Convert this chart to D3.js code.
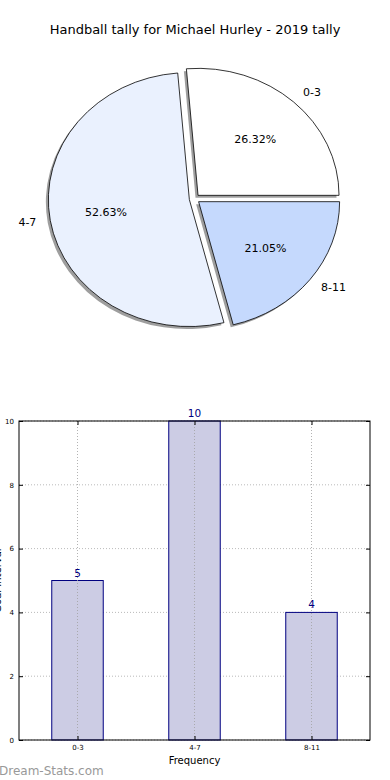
<!DOCTYPE html>
<html>
<head>
<meta charset="utf-8">
<script src="https://cdn.jsdelivr.net/npm/d3@7"></script>
<style>
  html, body { margin: 0; padding: 0; background: #fff; }
  svg { display: block; font-family: "DejaVu Sans", sans-serif; }
</style>
</head>
<body>
<svg id="chart" width="390" height="780"></svg>
<script>
const categories = ["0-3", "4-7", "8-11"];
const counts = [5, 10, 4];
const pieColors = ["#ffffff", "#eaf1fe", "#c5d9fd"];
const yTicks = [0, 2, 4, 6, 8, 10];
const titleText = "Handball tally for Michael Hurley - 2019 tally";
const xLabelText = "Frequency";
const yLabelText = "Goal Interval";
const watermark = "Dream-Stats.com";

const svg = d3.select("#chart");

svg.append("text").attr("x", 195).attr("y", 34).attr("text-anchor", "middle")
  .attr("font-size", 13).attr("fill", "#000").text(titleText);

// ---------- Pie ----------
const cx = 194.5, cy = 198.8, rx = 141, ry = 127;
const explode = 0.037;
const total = d3.sum(counts);
const pie = d3.pie().sort(null).startAngle(Math.PI / 2).endAngle(Math.PI / 2 - 2 * Math.PI);
const arcs = pie(counts);
const arcGen = d3.arc().innerRadius(0).outerRadius(rx);

const pieG = svg.append("g");
arcs.forEach((a, i) => {
  const m = (a.startAngle + a.endAngle) / 2;
  const ox = cx + explode * rx * Math.sin(m), oy = cy - explode * ry * Math.cos(m);
  pieG.append("path")
    .attr("d", arcGen(a))
    .attr("transform", `translate(${ox - 2.5},${oy + 2.5}) scale(1,${ry / rx})`)
    .attr("fill", "#000").attr("fill-opacity", 0.38);
  pieG.append("path")
    .attr("d", arcGen(a))
    .attr("transform", `translate(${ox},${oy}) scale(1,${ry / rx})`)
    .attr("fill", pieColors[i]).attr("stroke", "#000").attr("stroke-width", 0.8)
    .attr("vector-effect", "non-scaling-stroke");
});
arcs.forEach((a, i) => {
  const m = (a.startAngle + a.endAngle) / 2;
  const s = Math.sin(m), c = -Math.cos(m);
  const ox = cx + explode * rx * s, oy = cy + explode * ry * c;
  svg.append("text")
    .attr("x", ox + 1.1 * rx * s).attr("y", oy + 1.1 * ry * c)
    .attr("dy", "0.35em").attr("font-size", 11)
    .attr("text-anchor", s > 0 ? "start" : "end").text(categories[i]);
  svg.append("text")
    .attr("x", ox + 0.6 * rx * s).attr("y", oy + 0.6 * ry * c)
    .attr("dy", "0.35em").attr("font-size", 11).attr("text-anchor", "middle")
    .text((counts[i] / total * 100).toFixed(2) + "%");
});

// ---------- Bar ----------
const L = 19, R = 370, T = 421, B = 740;
const x = d3.scaleLinear().domain([-0.5, 2.5]).range([L, R]);
const y = d3.scaleLinear().domain([0, 10]).range([B, T]);
const barW = 0.44;
const g = svg.append("g");

g.selectAll(".gy").data(yTicks).enter().append("line")
  .attr("x1", L).attr("x2", R).attr("y1", d => y(d)).attr("y2", d => y(d))
  .attr("stroke", "#a8a8a8").attr("stroke-width", 0.8).attr("stroke-dasharray", "1,2");

g.selectAll(".bar").data(counts).enter().append("rect")
  .attr("x", (d, i) => x(i - barW / 2)).attr("width", x(barW) - x(0))
  .attr("y", d => y(d)).attr("height", d => B - y(d))
  .attr("fill", "#ccccE4").attr("stroke", "#000080").attr("stroke-width", 1);

g.selectAll(".gx").data(categories).enter().append("line")
  .attr("x1", (d, i) => x(i)).attr("x2", (d, i) => x(i)).attr("y1", T).attr("y2", B)
  .attr("stroke", "#a0a0a0").attr("stroke-width", 0.8).attr("stroke-dasharray", "1,2");

g.selectAll(".val").data(counts).enter().append("text")
  .attr("x", (d, i) => x(i)).attr("y", d => y(d) - 4)
  .attr("text-anchor", "middle").attr("font-size", 10.5).attr("fill", "#000080")
  .text(d => d);

const axL = d3.axisLeft(y).tickValues(yTicks).tickSize(-4).tickPadding(5);
const axR = d3.axisRight(y).tickValues(yTicks).tickSize(-4).tickFormat("");
const axB = d3.axisBottom(x).tickValues([0, 1, 2]).tickSize(-4).tickPadding(5)
  .tickFormat(i => categories[i]);
const axT = d3.axisTop(x).tickValues([0, 1, 2]).tickSize(-4).tickFormat("");

function style(sel) {
  sel.select(".domain").remove();
  sel.selectAll("line").attr("stroke", "#000");
  sel.selectAll("text").attr("font-size", 7).attr("font-family", "DejaVu Sans, sans-serif").attr("fill", "#000");
}
g.append("g").attr("transform", `translate(${L},0)`).call(axL).call(style);
g.append("g").attr("transform", `translate(${R},0)`).call(axR).call(style);
g.append("g").attr("transform", `translate(0,${B})`).call(axB).call(style);
g.append("g").attr("transform", `translate(0,${T})`).call(axT).call(style);

g.append("rect").attr("x", L).attr("y", T).attr("width", R - L).attr("height", B - T)
  .attr("fill", "none").attr("stroke", "#000").attr("stroke-width", 1);

svg.append("text").attr("x", (L + R) / 2).attr("y", 764).attr("text-anchor", "middle")
  .attr("font-size", 10).text(xLabelText);
// y label: in the reference it is almost fully cut off at the left edge
svg.append("text").attr("transform", `translate(1,${(T + B) / 2}) rotate(-90)`)
  .attr("text-anchor", "middle").attr("font-size", 10).text(yLabelText);

svg.append("text").attr("x", -1).attr("y", 775).attr("font-size", 12)
  .attr("fill", "#999999").text(watermark);
</script>
</body>
</html>
